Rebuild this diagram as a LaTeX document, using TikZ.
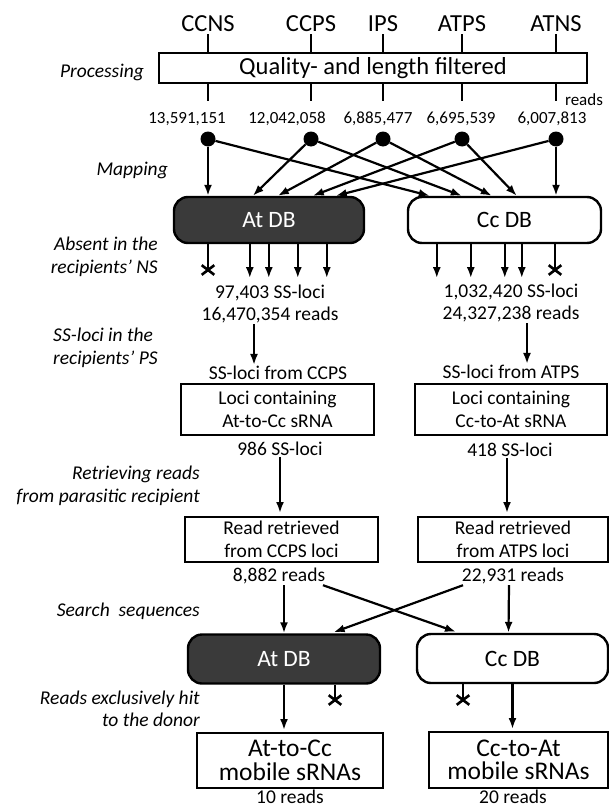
\documentclass[tikz,border=0pt]{standalone}
\usepackage{fontspec}
\setmainfont{Carlito}
\usetikzlibrary{arrows.meta,shapes.misc}
\definecolor{dbdark}{RGB}{58,58,58}
\newcommand\szTop{\fontsize{24.5}{28}\selectfont}
\newcommand\szNum{\fontsize{17}{20}\selectfont}
\newcommand\szMid{\fontsize{19.5}{22.5}\selectfont}
\newcommand\szLab{\fontsize{19.5}{22.5}\selectfont\itshape}
\newcommand\szDB{\fontsize{23.5}{27}\selectfont}
\newcommand\szEnd{\fontsize{25.5}{23.5}\selectfont}

\begin{document}
\begin{tikzpicture}[x=1pt,y=-1pt,
  lw/.style={line width=2.2pt},
  arr/.style={lw,-{Latex[length=11pt,width=8pt]}},
  box/.style={draw,line width=2pt,inner sep=0pt,align=center,font=\szMid},
  db/.style={draw,line width=2.4pt,rounded corners=14pt,inner sep=0pt,font=\szDB},
  dark/.style={db,fill=dbdark,text=white},
  dot/.style={circle,fill,inner sep=0pt,minimum size=15pt},
  txt/.style={inner sep=1pt,align=center,font=\szMid},
  lab/.style={inner sep=0pt,font=\szLab,anchor=east,align=right},
  nohit/.style={draw,cross out,line width=2.6pt,inner sep=0pt,minimum width=10pt,minimum height=7pt}]
\useasboundingbox (0,0) rectangle (609,808);

% samples and filtering
\foreach \i/\x/\t in {1/208/CCNS,2/311/CCPS,3/383/IPS,4/462/ATPS,5/556/ATNS}
  \node[font=\szTop,inner sep=2pt] (s\i) at (\x,24) {\t};
\node[box,font=\szTop,minimum width=428pt,minimum height=30pt] (qf) at (373,68) {Quality- and length filtered};
\foreach \i/\x/\v in {1/187/{13,591,151},2/287/{12,042,058},3/378/{6,885,477},4/461/{6,695,539},5/552/{6,007,813}}
  \node[font=\szNum,inner sep=0pt] (r\i) at (\x,119) {\v};
\node[font=\szNum,inner sep=0pt] (rd) at (584,100) {reads};
\foreach \i/\x in {1/208,2/311,3/383,4/462,5/556} {
  \draw[lw] (s\i) -- (s\i |- qf.north);
  \draw[lw] (s\i |- qf.south) -- ++(0,17);
  \node[dot] (d\i) at (\x,139) {};
}

% mapping
\node[dark,minimum width=190pt,minimum height=46pt] (atA) at (269,220) {At DB};
\node[db,fill=white,minimum width=193pt,minimum height=46pt] (ccA) at (504.5,220) {Cc DB};
\draw[arr] (d1) -- (d1 |- atA.north);
\draw[arr] (d2) -- ([xshift=80pt]atA.north west);
\draw[arr] (d3) -- ([xshift=105pt]atA.north west);
\draw[arr] (d4) -- ([xshift=140pt]atA.north west);
\draw[arr] (d5) -- ([xshift=163pt]atA.north west);
\draw[arr] (d1) -- ([xshift=23pt]ccA.north west);
\draw[arr] (d2) -- ([xshift=55pt]ccA.north west);
\draw[arr] (d3) -- ([xshift=85pt]ccA.north west);
\draw[arr] (d4) -- ([xshift=110pt]ccA.north west);
\draw[arr] (d5) -- (d5 |- ccA.north);

\foreach \s in {77,96,125,154}
  \draw[arr] ([xshift=\s pt]atA.south west) -- ++(0,34);
\foreach \s in {30,64,98,115}
  \draw[arr] ([xshift=\s pt]ccA.south west) -- ++(0,34);
\node[nohit] (xA) at (208,270) {};
\node[nohit] (xC) at (555,270) {};
\draw[lw] (atA.south -| xA) -- (xA.center);
\draw[lw] (ccA.south -| xC) -- (xC.center);

% left column
\node[txt] (ssA) at (270,304) {97,403 SS-loci\\16,470,354 reads};
\node[txt] (fromA) at (278,373) {SS-loci from CCPS};
\node[box,minimum width=193pt,minimum height=51pt] (locA) at (277.5,409.5) {Loci containing\\At-to-Cc sRNA};
\node[txt] (nA) at (280,449) {986 SS-loci};
\node[box,minimum width=193pt,minimum height=45pt] (retA) at (281.5,539.5) {Read retrieved\\from CCPS loci};
\node[txt] (rdA) at (279,576) {8,882 reads};
\draw[arr] ([xshift=-16pt]ssA.south) -- ([xshift=-24pt]fromA.north);
\draw[arr,shorten >=3pt] (nA.south) -- (nA.south |- retA.north);

% right column
\node[txt] (ssC) at (511,303) {1,032,420 SS-loci\\24,327,238 reads};
\node[txt] (fromC) at (511,372) {SS-loci from ATPS};
\node[box,minimum width=192pt,minimum height=51pt] (locC) at (511,409.5) {Loci containing\\Cc-to-At sRNA};
\node[txt] (nC) at (510,450) {418 SS-loci};
\node[box,minimum width=190pt,minimum height=45pt] (retC) at (513,539.5) {Read retrieved\\from ATPS loci};
\node[txt] (rdC) at (513,576) {22,931 reads};
\draw[arr] ([xshift=16pt]ssC.south) -- ([xshift=16pt]fromC.north);
\draw[arr,shorten >=3pt] ([xshift=-3pt]nC.south) -- ([xshift=-6pt]retC.north);

% search
\node[dark,minimum width=192pt,minimum height=49pt] (atB) at (284,659) {At DB};
\node[db,fill=white,minimum width=191pt,minimum height=49pt] (ccB) at (512.5,658.5) {Cc DB};
\draw[arr] (rdA.south -| atB) -- (atB.north);
\draw[arr] ([xshift=-4pt]rdC.south) -- ([xshift=-4pt]ccB.north);
\draw[arr,shorten >=3pt] ([xshift=44pt]rdA.south) -- ([xshift=43pt]ccB.north west);
\draw[arr,shorten >=3pt] ([xshift=-50pt]rdC.south) -- ([xshift=144pt]atB.north west);

\node[box,font=\szEnd,minimum width=186pt,minimum height=55pt] (endA) at (290,760.5) {At-to-Cc\\mobile sRNAs};
\node[box,font=\szEnd,minimum width=179pt,minimum height=56pt] (endC) at (518.5,760) {Cc-to-At\\mobile sRNAs};
\draw[arr,shorten >=2pt] (atB.south) -- (atB.south |- endA.north);
\draw[arr,shorten >=2pt] (ccB.south) -- (ccB.south |- endC.north);
\node[nohit] (xB) at (335,700) {};
\node[nohit] (xD) at (463,700) {};
\draw[lw] (atB.south -| xB) -- (xB.center);
\draw[lw] (ccB.south -| xD) -- (xD.center);
\node[txt] (tenA) at (290,797) {10 reads};
\node[txt] (twC) at (513,797) {20 reads};

% step labels
\node[lab] (lp) at (144,72) {Processing};
\node[lab] (lm) at (168,170) {Mapping};
\node[lab] (la) at (158,257) {Absent in the\\recipients' NS};
\node[lab,anchor=west,align=left] (ls) at (53,348) {SS-loci in the\\recipients' PS};
\node[lab] (lr) at (200,486) {Retrieving reads\\from parasitic recipient};
\node[lab] (lq) at (200,611) {Search\ \ sequences};
\node[lab] (lx) at (200,709) {Reads exclusively hit\\to the donor};
\end{tikzpicture}
\end{document}
